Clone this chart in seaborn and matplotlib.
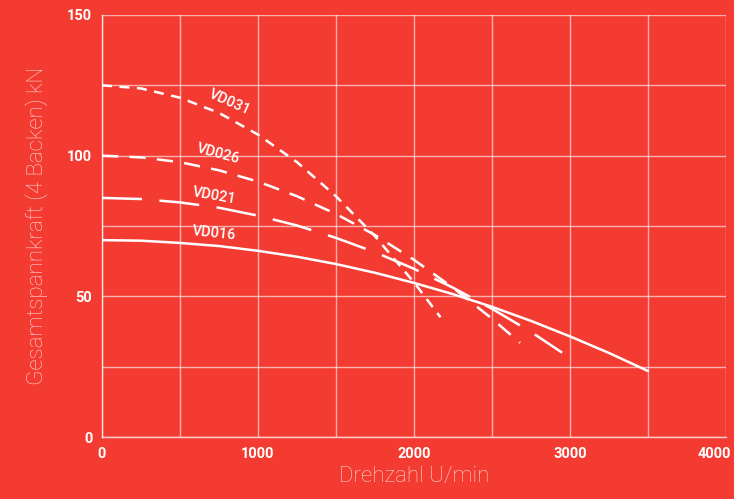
import pandas as pd
import matplotlib.pyplot as plt
import matplotlib.transforms as mtransforms
import seaborn as sns

# values
x_vd016 = [0, 250, 500, 750, 1000, 1250, 1500, 1750, 2000, 2250, 2500, 2750, 3000, 3250, 3500]
y_vd016 = [70, 69.8, 69, 67.9, 66.2, 64.1, 61.5, 58.4, 54.8, 50.8, 46.3, 41.3, 35.8, 29.9, 23.5]
x_vd021 = [0, 250, 500, 750, 1000, 1250, 1500, 1750, 2000, 2250, 2500, 2750, 2950]
y_vd021 = [85, 84.6, 83.4, 81.5, 78.7, 75.2, 70.8, 65.7, 59.8, 53.1, 45.6, 37.4, 30]
x_vd026 = [0, 250, 500, 750, 1000, 1250, 1500, 1750, 2000, 2250, 2500, 2680]
y_vd026 = [100, 99.4, 97.7, 94.8, 90.8, 85.6, 79.3, 71.8, 63, 53.1, 42.1, 33.5]
x_vd031 = [0, 250, 500, 750, 1000, 1250, 1500, 1750, 2000, 2170]
y_vd031 = [125, 123.9, 120.6, 115.2, 107.5, 97.7, 85.6, 71.4, 55, 42.6]

modelle = ['VD016', 'VD021', 'VD026', 'VD031']
xs = [x_vd016, x_vd021, x_vd026, x_vd031]
ys = [y_vd016, y_vd021, y_vd026, y_vd031]

# label placement (data coords) and rotation
label_pos = {'VD031': (820, 119, -24), 'VD026': (745, 100.6, -15),
             'VD021': (720, 85.7, -10), 'VD016': (720, 72.5, -6)}

rows = []
for m, xv, yv in zip(modelle, xs, ys):
    for a, b in zip(xv, yv):
        rows.append({'Modell': m, 'Drehzahl': a, 'Kraft': b})
df = pd.DataFrame(rows)

bg = '#F33B32'
sns.set_style('white')
plt.rcParams['font.family'] = ['Roboto', 'DejaVu Sans']

fig = plt.figure(figsize=(7.34, 4.99), dpi=100, facecolor=bg)
ax = fig.add_axes([0.139, 0.124, 0.85, 0.846])
ax.set_facecolor(bg)

dash_map = {'VD016': '', 'VD021': (16, 7), 'VD026': (6.5, 4.5), 'VD031': (4, 3)}
sns.lineplot(data=df, x='Drehzahl', y='Kraft', style='Modell', dashes=dash_map,
             color='white', lw=1.8, legend=False, ax=ax, estimator=None, sort=True)

for m, (tx, ty, rot) in label_pos.items():
    ax.text(tx, ty, m, color='white', fontsize=10.5, fontweight='medium', rotation=rot,
            ha='center', va='center', rotation_mode='anchor')

ax.set_xlim(0, 4000)
ax.set_ylim(0, 150)
ax.set_xticks(range(0, 4001, 1000))
ax.set_xticks(range(0, 4001, 500), minor=True)
ax.set_yticks([0, 50, 100, 150])
ax.set_yticks(range(0, 151, 25), minor=True)
ax.grid(True, which='both', color='white', alpha=0.6, lw=1)
ax.set_axisbelow(True)

for s in ['top', 'right']:
    ax.spines[s].set_visible(False)
for s in ['left', 'bottom']:
    ax.spines[s].set_color((1, 1, 1, 0.75))
    ax.spines[s].set_linewidth(1)

ax.tick_params(which='major', colors='white', length=4, width=1, labelsize=10.5, pad=3)
ax.tick_params(which='minor', length=0)
for lab in ax.get_xticklabels() + ax.get_yticklabels():
    lab.set_fontweight('bold')

# last x label sits inside the figure like in the reference
last = ax.get_xticklabels()[-1]
last.set_transform(last.get_transform() + mtransforms.ScaledTranslation(-0.12, 0, fig.dpi_scale_trans))

ax.set_xlabel('Drehzahl U/min', color='#FFD6D2', fontsize=16, fontweight='light', labelpad=4)
ax.set_ylabel('Gesamtspannkraft (4 Backen) kN', color='#FFD6D2', fontsize=16,
              fontweight='light', labelpad=14)

plt.savefig('out.png', dpi=100, facecolor=bg)
plt.close()
